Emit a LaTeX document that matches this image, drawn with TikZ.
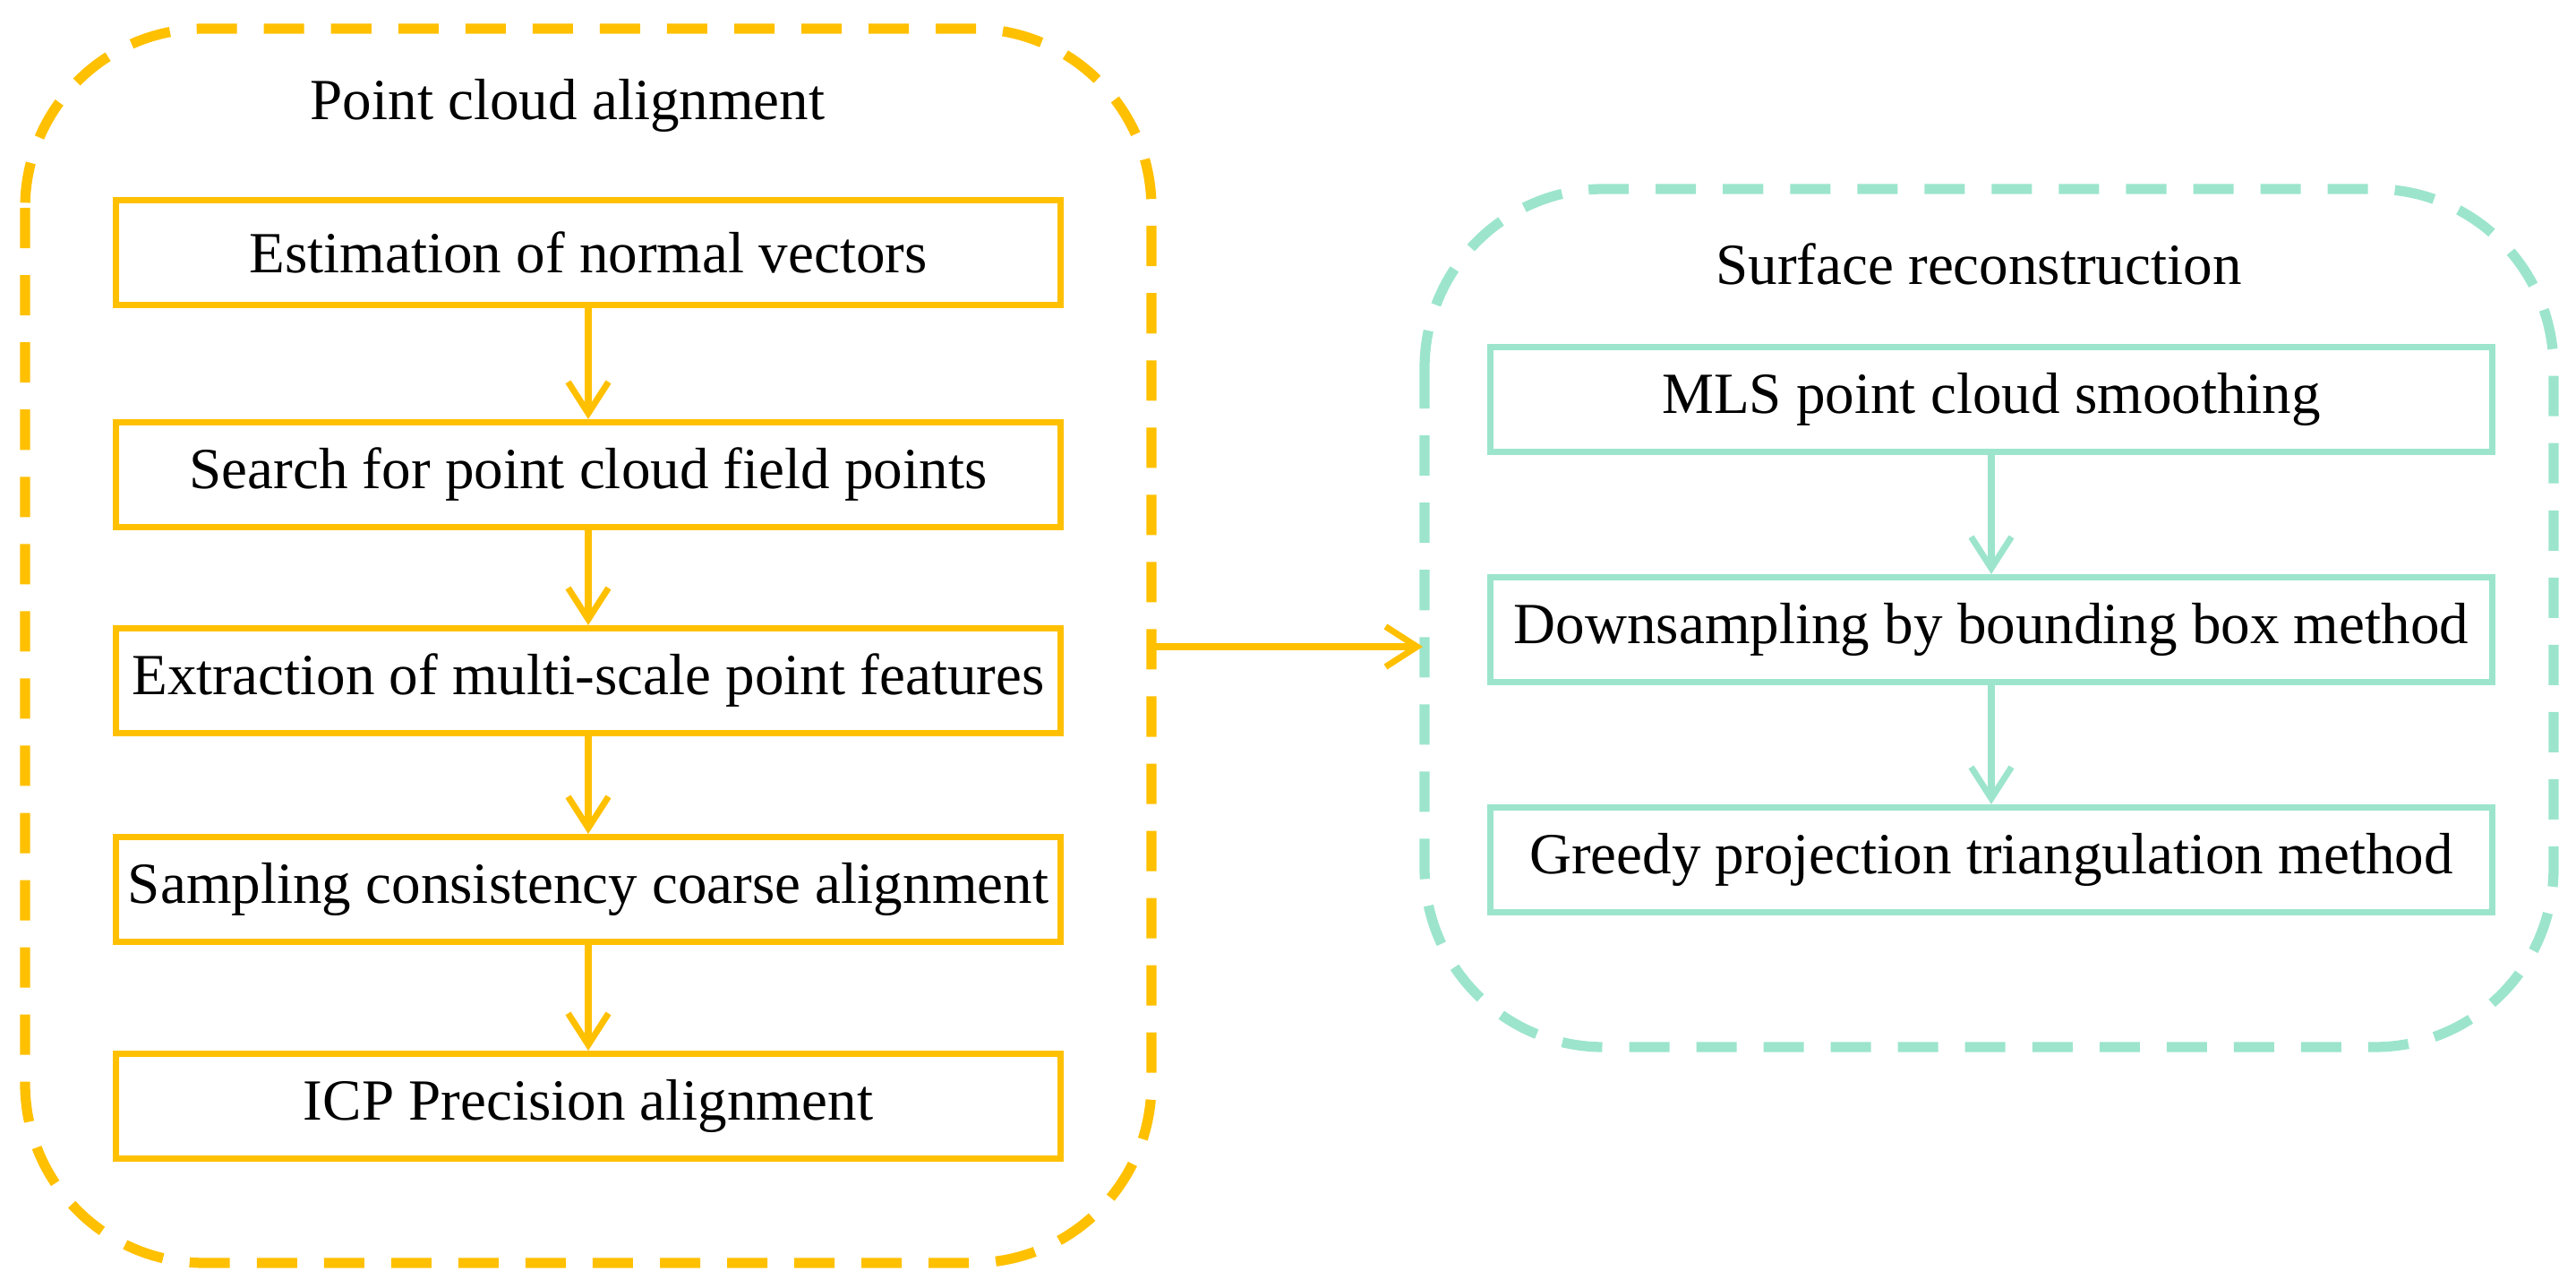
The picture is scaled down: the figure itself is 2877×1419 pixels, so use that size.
\documentclass[tikz,border=0pt]{standalone}
\usepackage{fontspec}
\setmainfont{Liberation Serif}
\usetikzlibrary{arrows.meta}
\definecolor{org}{HTML}{FFC000}
\definecolor{tea}{HTML}{9CE5CC}
\begin{document}
\begin{tikzpicture}[x=0.01cm,y=-0.01cm,
  box/.style={draw,line width=2pt,minimum width=10.55cm,minimum height=1.17cm,inner sep=0pt,font=\fontsize{18}{20}\selectfont},
  grp/.style={line width=3.2pt,dash pattern=on 0.45cm off 0.3cm,rounded corners=2cm},
  arr/.style={line width=2pt,-{Straight Barb[length=0.35cm,width=0.45cm,line width=2pt]}},
  ttl/.style={font=\fontsize{18.5}{20}\selectfont}]
\useasboundingbox (0,0) rectangle (2877,1419);
\draw[grp,org] (28,32) rectangle (1286,1410);
\node[ttl] (t1) at (634,118) {Point cloud alignment};
\begin{scope}[every node/.style={box,org}]
\node (a1) at (657,282) {};
\node (a2) at (657,530) {};
\node (a3) at (657,760) {};
\node (a4) at (657,993) {};
\node (a5) at (657,1235) {};
\end{scope}
\node[ttl] at (a1) {Estimation of normal vectors};
\node[ttl] at (a2) {Search for point cloud field points};
\node[ttl] at (a3) {Extraction of multi-scale point features};
\node[ttl] at (a4) {Sampling consistency coarse alignment};
\node[ttl] at (a5) {ICP Precision alignment};
\foreach \i/\j in {a1/a2,a2/a3,a3/a4,a4/a5} \draw[arr,org] (\i) -- (\j);
\draw[grp,tea] (1591,211) rectangle (2852,1169);
\node[ttl] (t2) at (2210,295) {Surface reconstruction};
\begin{scope}[every node/.style={box,tea,minimum width=11.18cm}]
\node (b1) at (2224,446) {};
\node (b2) at (2224,703) {};
\node (b3) at (2224,960) {};
\end{scope}
\node[ttl] at (b1) {MLS point cloud smoothing};
\node[ttl] at (b2) {Downsampling by bounding box method};
\node[ttl] at (b3) {Greedy projection triangulation method};
\foreach \i/\j in {b1/b2,b2/b3} \draw[arr,tea] (\i) -- (\j);
\coordinate (s) at (1288,722);
\coordinate (e) at (1589,722);
\draw[arr,org] (s) -- (e);
\end{tikzpicture}
\end{document}
